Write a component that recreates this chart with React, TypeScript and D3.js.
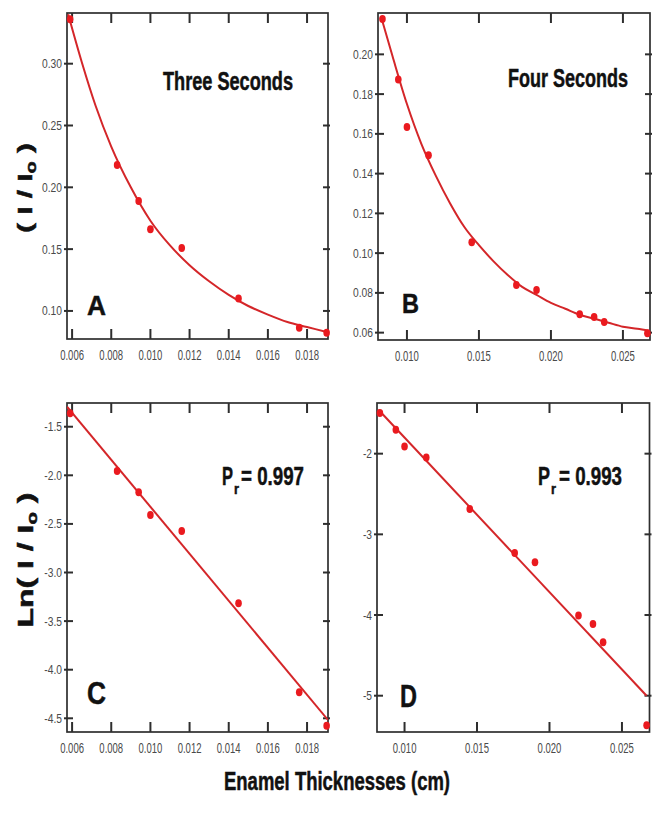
import React from "react";
import * as d3 from "d3";

// ---------- Data ----------
const thicknessA = [0.0059, 0.0083, 0.0094, 0.0100, 0.0116, 0.0145, 0.0176, 0.0190];
const ratioA = [0.336, 0.218, 0.189, 0.166, 0.151, 0.110, 0.0864, 0.0824];
const lnRatioC = [-1.362, -1.956, -2.175, -2.408, -2.573, -3.317, -4.232, -4.576];

const thicknessB = [0.0083, 0.0094, 0.0100, 0.0115, 0.0145, 0.0176, 0.0190, 0.0220, 0.0230, 0.0237, 0.0267];
const ratioB = [0.2178, 0.1874, 0.1634, 0.1492, 0.1055, 0.084, 0.0815, 0.0692, 0.0679, 0.0654, 0.0597];
const lnRatioD = [-1.496, -1.703, -1.91, -2.046, -2.686, -3.23, -3.347, -4.007, -4.11, -4.338, -5.367];

// fitted curves / lines
const fitAx = [0.0058, 0.0065, 0.0072, 0.008, 0.009, 0.010, 0.011, 0.012, 0.013, 0.014, 0.015, 0.016, 0.017, 0.018, 0.019];
const fitAy = [0.340, 0.301, 0.266, 0.233, 0.200, 0.173, 0.153, 0.137, 0.124, 0.113, 0.104, 0.097, 0.091, 0.087, 0.083];
const fitBx = [0.0082, 0.009, 0.010, 0.011, 0.012, 0.013, 0.014, 0.015, 0.016, 0.017, 0.018, 0.019, 0.020, 0.021, 0.022, 0.023, 0.024, 0.025, 0.026, 0.0268];
const fitBy = [0.219, 0.199, 0.175, 0.155, 0.139, 0.125, 0.113, 0.104, 0.096, 0.089, 0.083, 0.079, 0.075, 0.072, 0.069, 0.067, 0.065, 0.063, 0.062, 0.061];
const fitCx = [0.00574, 0.01907];
const fitCy = [-1.294, -4.517];
const fitDx = [0.0082, 0.0267];
const fitDy = [-1.455, -5.0];

// ticks
const xTicksAC = [0.006, 0.008, 0.010, 0.012, 0.014, 0.016, 0.018];
const xLabelsAC = ["0.006", "0.008", "0.010", "0.012", "0.014", "0.016", "0.018"];
const xTicksBD = [0.010, 0.015, 0.020, 0.025];
const xLabelsBD = ["0.010", "0.015", "0.020", "0.025"];
const yTicksA = [0.10, 0.15, 0.20, 0.25, 0.30];
const yLabelsA = ["0.10", "0.15", "0.20", "0.25", "0.30"];
const yTicksB = [0.06, 0.08, 0.10, 0.12, 0.14, 0.16, 0.18, 0.20];
const yLabelsB = ["0.06", "0.08", "0.10", "0.12", "0.14", "0.16", "0.18", "0.20"];
const yTicksC = [-4.5, -4.0, -3.5, -3.0, -2.5, -2.0, -1.5];
const yLabelsC = ["-4.5", "-4.0", "-3.5", "-3.0", "-2.5", "-2.0", "-1.5"];
const yTicksD = [-5, -4, -3, -2];
const yLabelsD = ["-5", "-4", "-3", "-2"];

const RED_LINE = "#d42629";
const RED_DOT = "#ea1a1f";
const FRAME = "#2e2e2e";
const TICKTXT = "#4a4a4a";

type Box = { left: number; right: number; top: number; bottom: number };

function Panel(props: {
  box: Box;
  xDomain: [number, number];
  yDomain: [number, number];
  xTicks: number[];
  xLabels: string[];
  yTicks: number[];
  yLabels: string[];
  xs: number[];
  ys: number[];
  fx: number[];
  fy: number[];
  curved: boolean;
}) {
  const { box, xDomain, yDomain, xTicks, xLabels, yTicks, yLabels, xs, ys, fx, fy, curved } = props;
  const x = d3.scaleLinear().domain(xDomain).range([box.left, box.right]);
  const y = d3.scaleLinear().domain(yDomain).range([box.bottom, box.top]);
  const line = d3
    .line<number>()
    .x((d) => x(d))
    .y((_, i) => y(fy[i]))
    .curve(curved ? d3.curveMonotoneX : d3.curveLinear);
  const clipId = `clip-${box.left}-${box.top}`;
  return (
    <g>
      <defs>
        <clipPath id={clipId}>
          <rect x={box.left} y={box.top} width={box.right - box.left} height={box.bottom - box.top} />
        </clipPath>
      </defs>
      {xTicks.map((t, i) => (
        <g key={"xt" + i}>
          <line x1={x(t)} x2={x(t)} y1={box.bottom} y2={box.bottom - 10} stroke={FRAME} strokeWidth={2} />
          <line x1={x(t)} x2={x(t)} y1={box.top} y2={box.top + 10} stroke={FRAME} strokeWidth={2} />
          <text
            transform={`translate(${x(t)},${box.bottom + 21}) scale(0.68,1)`}
            textAnchor="middle"
            fontFamily="Liberation Sans, Arial, sans-serif"
            fontSize={14}
            fill={TICKTXT}
          >
            {xLabels[i]}
          </text>
        </g>
      ))}
      {yTicks.map((t, i) => (
        <g key={"yt" + i}>
          <line x1={box.left - 3} x2={box.left + 6} y1={y(t)} y2={y(t)} stroke={FRAME} strokeWidth={2} />
          <line x1={box.right - 5} x2={box.right + 2} y1={y(t)} y2={y(t)} stroke={FRAME} strokeWidth={2} />
          <text
            transform={`translate(${box.left - 5},${y(t) + 4.5}) scale(0.82,1)`}
            textAnchor="end"
            fontFamily="Liberation Sans, Arial, sans-serif"
            fontSize={12.5}
            fill={TICKTXT}
          >
            {yLabels[i]}
          </text>
        </g>
      ))}
      <rect
        x={box.left}
        y={box.top}
        width={box.right - box.left}
        height={box.bottom - box.top}
        fill="none"
        stroke={FRAME}
        strokeWidth={1.7}
      />
      <path d={line(fx) || ""} fill="none" stroke={RED_LINE} strokeWidth={2} clipPath={`url(#${clipId})`} />
      {xs.map((v, i) => (
        <ellipse key={"p" + i} cx={x(v)} cy={y(ys[i])} rx={3.3} ry={4} fill={RED_DOT} />
      ))}
    </g>
  );
}

const boldFont = "Liberation Sans, Arial, Helvetica, sans-serif";

function CText(props: { x: number; y: number; len: number; size: number; children: React.ReactNode }) {
  return (
    <text
      x={props.x}
      y={props.y}
      fontFamily={boldFont}
      fontWeight={700}
      fontSize={props.size}
      textLength={props.len}
      lengthAdjust="spacingAndGlyphs"
      fill="#111"
      stroke="#111"
      strokeWidth={0.5}
    >
      {props.children}
    </text>
  );
}

export default function App() {
  const boxA: Box = { left: 67, right: 328, top: 13, bottom: 339 };
  const boxB: Box = { left: 378, right: 650, top: 13, bottom: 340 };
  const boxC: Box = { left: 67, right: 328, top: 403, bottom: 732 };
  const boxD: Box = { left: 377, right: 649.5, top: 403, bottom: 732 };
  return (
    <svg width={664} height={819} style={{ position: "absolute", left: 0, top: 0, background: "#fff" }}>
      <rect x={0} y={0} width={664} height={819} fill="#fff" />
      <Panel box={boxA} xDomain={[0.00574, 0.01907]} yDomain={[0.0773, 0.341]} xTicks={xTicksAC} xLabels={xLabelsAC}
        yTicks={yTicksA} yLabels={yLabelsA} xs={thicknessA} ys={ratioA} fx={fitAx} fy={fitAy} curved={true} />
      <Panel box={boxB} xDomain={[0.00799, 0.02688]} yDomain={[0.0563, 0.2208]} xTicks={xTicksBD} xLabels={xLabelsBD}
        yTicks={yTicksB} yLabels={yLabelsB} xs={thicknessB} ys={ratioB} fx={fitBx} fy={fitBy} curved={true} />
      <Panel box={boxC} xDomain={[0.00574, 0.01907]} yDomain={[-4.641, -1.256]} xTicks={xTicksAC} xLabels={xLabelsAC}
        yTicks={yTicksC} yLabels={yLabelsC} xs={thicknessA} ys={lnRatioC} fx={fitCx} fy={fitCy} curved={false} />
      <Panel box={boxD} xDomain={[0.0081, 0.0269]} yDomain={[-5.45, -1.372]} xTicks={xTicksBD} xLabels={xLabelsBD}
        yTicks={yTicksD} yLabels={yLabelsD} xs={thicknessB} ys={lnRatioD} fx={fitDx} fy={fitDy} curved={false} />

      <CText x={163} y={90} len={130} size={25}>Three Seconds</CText>
      <CText x={508} y={87} len={120} size={25}>Four Seconds</CText>

      <CText x={87} y={315} len={19} size={28}>A</CText>
      <CText x={402} y={313} len={17} size={28}>B</CText>
      <CText x={87} y={704} len={19} size={31}>C</CText>
      <CText x={400} y={707} len={17} size={31}>D</CText>

      <CText x={222} y={485} len={11} size={26}>P</CText>
      <CText x={234} y={494} len={5} size={15}>r</CText>
      <CText x={241} y={485} len={63} size={26}>= 0.997</CText>
      <CText x={538} y={485} len={12} size={26}>P</CText>
      <CText x={551} y={494} len={5} size={15}>r</CText>
      <CText x={559} y={485} len={63} size={26}>= 0.993</CText>

      <text
        transform="translate(32,188) rotate(-90)"
        textAnchor="middle"
        fontFamily={boldFont}
        fontWeight={700}
        fontSize={21}
        textLength={90}
        lengthAdjust="spacingAndGlyphs"
        fill="#111"
        stroke="#111"
        strokeWidth={0.5}
      >
        ( I / I<tspan fontSize={14} dy={4}>o</tspan><tspan dy={-4}> )</tspan>
      </text>
      <text
        transform="translate(33,560) rotate(-90)"
        textAnchor="middle"
        fontFamily={boldFont}
        fontWeight={700}
        fontSize={22}
        textLength={135}
        lengthAdjust="spacingAndGlyphs"
        fill="#111"
        stroke="#111"
        strokeWidth={0.5}
      >
        Ln( I / I<tspan fontSize={14} dy={4}>o</tspan><tspan dy={-4}> )</tspan>
      </text>

      <CText x={224} y={790} len={226} size={26}>Enamel Thicknesses (cm)</CText>
    </svg>
  );
}
